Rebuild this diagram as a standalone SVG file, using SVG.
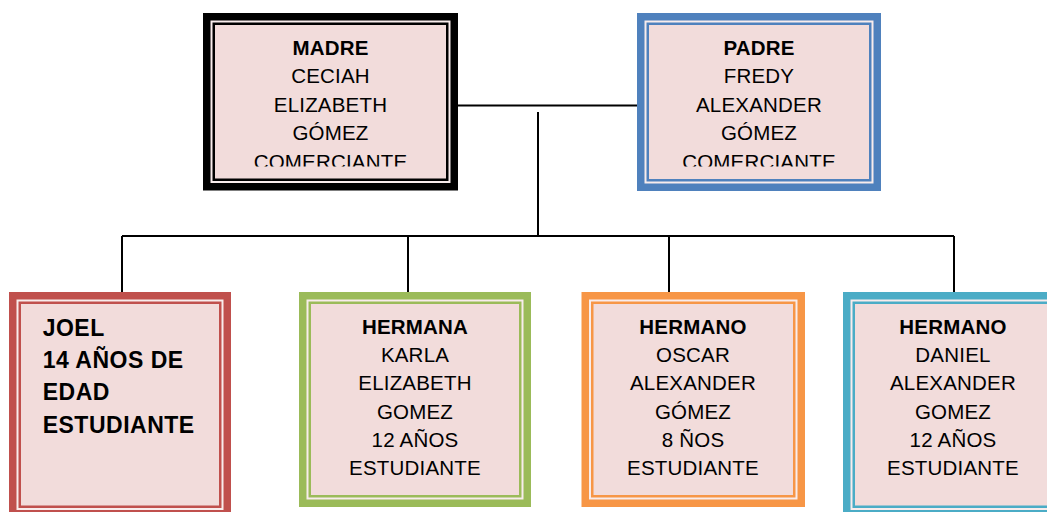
<svg xmlns="http://www.w3.org/2000/svg" width="1047" height="512" viewBox="0 0 1047 512">
<style>
.outer{fill:#F8ECEC;stroke-width:7.5}
.inner{fill:#F2DCDB;stroke-width:2.5}
.t{font-family:"Liberation Sans",Arial,sans-serif;font-size:20.5px;letter-spacing:0.2px;fill:#000;text-anchor:middle}
.b{font-weight:bold}
.j{font-family:"Liberation Sans",Arial,sans-serif;font-size:23px;letter-spacing:0.5px;font-weight:bold;fill:#000}
.conn{stroke:#000;stroke-width:2;fill:none}
</style>
<defs>
<clipPath id="clipTop"><rect x="0" y="0" width="1047" height="166.5"/></clipPath>
</defs>
<rect width="1047" height="512" fill="#fff"/>
<g id="connectors">
<path class="conn" d="M458,105.5 H640"/>
<path class="conn" d="M538,112 V236"/>
<path class="conn" d="M122,236 H954"/>
<path class="conn" d="M122,236 V293"/>
<path class="conn" d="M408,236 V293"/>
<path class="conn" d="M669,236 V293"/>
<path class="conn" d="M954,236 V293"/>
</g>
<g id="madre">
<rect class="outer" x="206.75" y="16.75" width="247.5" height="170" stroke="#000"/>
<rect class="inner" x="213.75" y="23.75" width="233.5" height="156" stroke="#000"/>
<g clip-path="url(#clipTop)">
<text class="t b" x="330.5" y="55">MADRE</text>
<text class="t" x="330.5" y="83.4">CECIAH</text>
<text class="t" x="330.5" y="111.8">ELIZABETH</text>
<text class="t" x="330.5" y="140.2">GÓMEZ</text>
<text class="t" x="330.5" y="168.6">COMERCIANTE</text>
</g>
</g>
<g id="padre">
<rect class="outer" x="640.75" y="16.75" width="236.5" height="170.5" stroke="#4F81BD"/>
<rect class="inner" x="647.75" y="23.75" width="222.5" height="156.5" stroke="#4F81BD"/>
<g clip-path="url(#clipTop)">
<text class="t b" x="759" y="55">PADRE</text>
<text class="t" x="759" y="83.4">FREDY</text>
<text class="t" x="759" y="111.8">ALEXANDER</text>
<text class="t" x="759" y="140.2">GÓMEZ</text>
<text class="t" x="759" y="168.6">COMERCIANTE</text>
</g>
</g>
<g id="joel">
<rect class="outer" x="12.75" y="295.75" width="214.5" height="218" stroke="#C0504D"/>
<rect class="inner" x="19.75" y="302.75" width="200.5" height="204" stroke="#C0504D"/>
<text class="j" x="42.7" y="335.7">JOEL</text>
<text class="j" x="42.7" y="367.9">14 AÑOS DE</text>
<text class="j" x="42.7" y="400.1">EDAD</text>
<text class="j" x="42.7" y="432.5">ESTUDIANTE</text>
</g>
<g id="hermana">
<rect class="outer" x="302.75" y="295.75" width="224.5" height="207.5" stroke="#9BBB59"/>
<rect class="inner" x="309.75" y="302.75" width="210.5" height="193.5" stroke="#9BBB59"/>
<text class="t b" x="415" y="334">HERMANA</text>
<text class="t" x="415" y="362.2">KARLA</text>
<text class="t" x="415" y="390.4">ELIZABETH</text>
<text class="t" x="415" y="418.6">GOMEZ</text>
<text class="t" x="415" y="446.8">12 AÑOS</text>
<text class="t" x="415" y="475">ESTUDIANTE</text>
</g>
<g id="hermano-oscar">
<rect class="outer" x="585.25" y="295.75" width="216" height="207.5" stroke="#F79646"/>
<rect class="inner" x="592.25" y="302.75" width="202" height="193.5" stroke="#F79646"/>
<text class="t b" x="693" y="334">HERMANO</text>
<text class="t" x="693" y="362.2">OSCAR</text>
<text class="t" x="693" y="390.4">ALEXANDER</text>
<text class="t" x="693" y="418.6">GÓMEZ</text>
<text class="t" x="693" y="446.8">8 ÑOS</text>
<text class="t" x="693" y="475">ESTUDIANTE</text>
</g>
<g id="hermano-daniel">
<rect class="outer" x="846.75" y="295.75" width="212.5" height="218" stroke="#4BACC6"/>
<rect class="inner" x="853.75" y="302.75" width="198.5" height="204" stroke="#4BACC6"/>
<text class="t b" x="953" y="334">HERMANO</text>
<text class="t" x="953" y="362.2">DANIEL</text>
<text class="t" x="953" y="390.4">ALEXANDER</text>
<text class="t" x="953" y="418.6">GOMEZ</text>
<text class="t" x="953" y="446.8">12 AÑOS</text>
<text class="t" x="953" y="475">ESTUDIANTE</text>
</g>
</svg>
